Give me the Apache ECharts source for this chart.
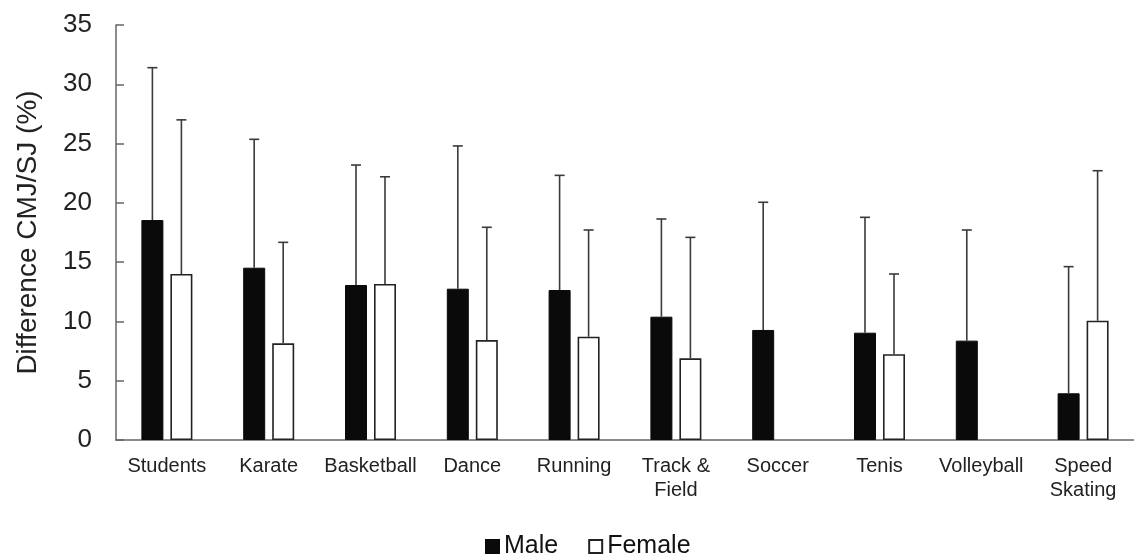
<!DOCTYPE html>
<html>
<head>
<meta charset="utf-8">
<script src="https://cdn.jsdelivr.net/npm/echarts@6/dist/echarts.min.js"></script>
<style>html,body{margin:0;padding:0;background:#fff}#c{width:1134px;height:554px}</style>
</head>
<body>
<div id="c"></div>
<script>
var categories = ['Students','Karate','Basketball','Dance','Running','Track &\nField','Soccer','Tenis','Volleyball','Speed\nSkating'];
var maleMean = [18.55, 14.53, 13.07, 12.76, 12.65, 10.40, 9.28, 9.05, 8.38, 3.94];
var maleSD   = [12.85, 10.83, 10.12, 12.04, 9.67, 8.24, 10.77, 9.73, 9.33, 10.68];
var femaleMean = [14.00, 8.15, 13.16, 8.43, 8.71, 6.89, null, 7.23, null, 10.06];
var femaleSD   = [13.00, 8.52, 9.04, 9.51, 9.00, 10.20, null, 6.77, null, 12.65];
var yTicks = [0, 5, 10, 15, 20, 25, 30, 35];

var FONT = '"Liberation Sans", Arial, sans-serif';
var BAR_W = 22, GAP = 7;
var OFF = (BAR_W + GAP) / 2;

function errData(means, sds) {
  var out = [];
  for (var i = 0; i < means.length; i++) {
    if (means[i] == null) continue;
    out.push([i, means[i], means[i] + sds[i]]);
  }
  return out;
}

function errSeries(means, sds, dir) {
  return {
    type: 'custom',
    silent: true,
    z: 5,
    data: errData(means, sds),
    encode: { x: 0, y: [1, 2] },
    renderItem: function (params, api) {
      var c = api.value(0);
      var lo = api.coord([c, api.value(1)]);
      var hi = api.coord([c, api.value(2)]);
      var x = lo[0] + dir * OFF;
      var style = { stroke: '#3a3a3a', lineWidth: 1.6 };
      return {
        type: 'group',
        children: [
          { type: 'line', shape: { x1: x, y1: lo[1], x2: x, y2: hi[1] }, style: style },
          { type: 'line', shape: { x1: x - 5, y1: hi[1], x2: x + 5, y2: hi[1] }, style: style }
        ]
      };
    }
  };
}

var chart = echarts.init(document.getElementById('c'));
chart.setOption({
  animation: false,
  backgroundColor: '#fff',
  textStyle: { fontFamily: FONT },
  grid: { left: 116, top: 25, bottom: 114, right: -10, containLabel: false },
  legend: {
    top: 529, left: 480,
    itemWidth: 13, itemHeight: 13, itemGap: 30,
    icon: 'rect',
    textStyle: { fontSize: 25, color: '#111', fontFamily: FONT },
    data: ['Male', 'Female']
  },
  xAxis: {
    type: 'category',
    data: categories,
    axisLine: { lineStyle: { color: '#666', width: 1.5 } },
    axisTick: { show: false },
    axisLabel: { fontSize: 20, color: '#222', margin: 14, lineHeight: 24, interval: 0, fontFamily: FONT }
  },
  yAxis: {
    type: 'value',
    min: yTicks[0], max: yTicks[yTicks.length - 1], interval: 5,
    name: 'Difference CMJ/SJ (%)',
    nameLocation: 'middle', nameGap: 74, nameRotate: 90,
    nameTextStyle: { fontSize: 28, color: '#222', fontFamily: FONT },
    axisLine: { show: true, lineStyle: { color: '#666', width: 1.5 } },
    axisTick: { show: true, inside: true, length: 8, lineStyle: { color: '#666', width: 1.5 } },
    splitLine: { show: false },
    axisLabel: { fontSize: 26, color: '#222', margin: 24, fontFamily: FONT }
  },
  series: [
    {
      name: 'Male', type: 'bar', data: maleMean,
      barWidth: BAR_W, barGap: (GAP / BAR_W * 100) + '%',
      itemStyle: { color: '#0a0a0a', borderColor: '#0a0a0a', borderWidth: 1 }
    },
    {
      name: 'Female', type: 'bar', data: femaleMean.map(function (v) { return v == null ? '-' : v; }),
      barWidth: BAR_W,
      itemStyle: { color: '#fff', borderColor: '#222', borderWidth: 1.6 }
    },
    errSeries(maleMean, maleSD, -1),
    errSeries(femaleMean, femaleSD, 1)
  ]
});
</script>
</body>
</html>
